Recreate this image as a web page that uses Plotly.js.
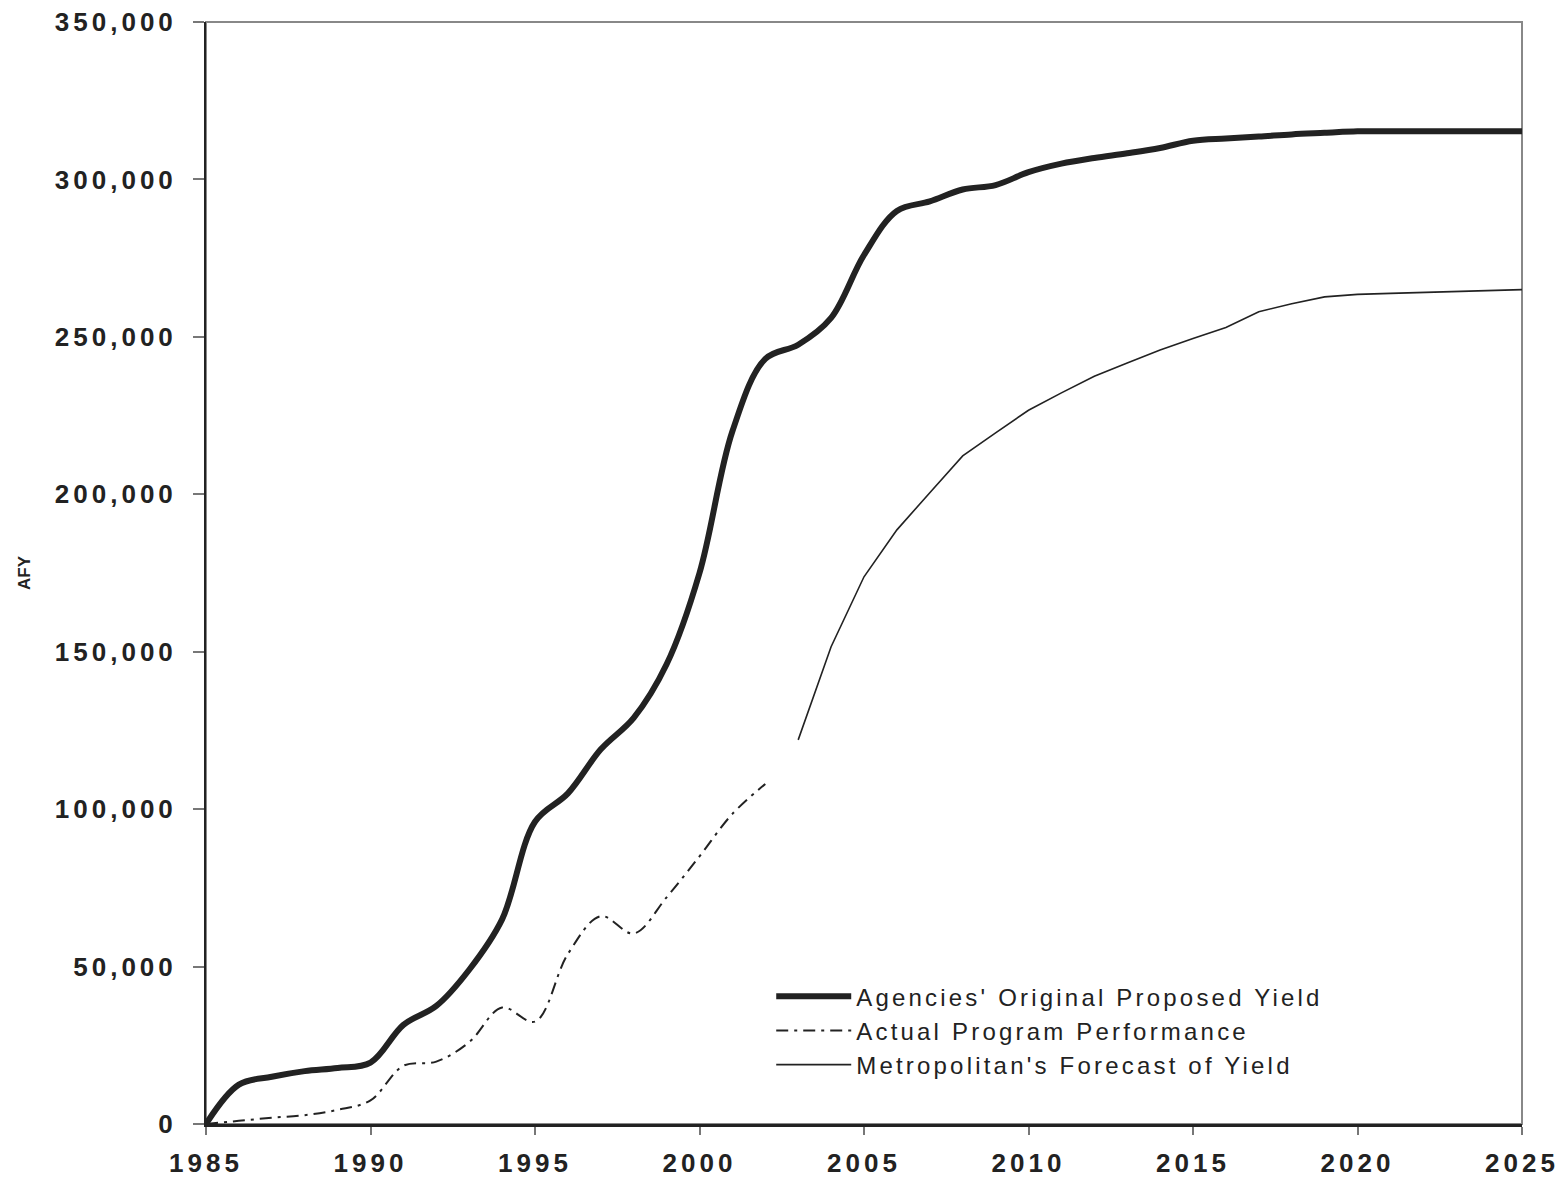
<!DOCTYPE html>
<html>
<head>
<meta charset="utf-8">
<script src="https://cdn.plot.ly/plotly-3.0.1.min.js"></script>
<style>
  html, body { margin: 0; padding: 0; background: #fff; }
  #chart { width: 1566px; height: 1183px; }
  .xtick text, .ytick text { letter-spacing: 4px; }
  .legendtext { letter-spacing: 3.2px; }
</style>
</head>
<body>
<div id="chart"></div>
<script>
const agencyYears = [1985,1986,1987,1988,1989,1990,1991,1992,1993,1994,1995,1996,1997,1998,1999,2000,2001,2002,2003,2004,2005,2006,2007,2008,2009,2010,2011,2012,2013,2014,2015,2016,2017,2018,2019,2020,2021,2022,2023,2024,2025];
const agencyYield = [0,12500,15000,16800,17800,19500,31500,37500,49000,65000,96000,105000,119000,129000,146000,175000,220000,243000,247500,256000,276000,290000,293000,296800,298200,302300,305000,306800,308300,310000,312300,313000,313600,314300,314800,315300,315300,315300,315300,315300,315300];

const actualYears = [1985,1986,1987,1988,1989,1990,1991,1992,1993,1994,1995,1996,1997,1998,1999,2000,2001,2002];
const actualPerf = [0,1000,2000,2800,4500,7500,18500,19800,26000,37000,32500,54000,66000,60500,72000,85000,98500,108000];

const metYears = [2003,2004,2005,2006,2007,2008,2009,2010,2011,2012,2013,2014,2015,2016,2017,2018,2019,2020,2021,2022,2023,2024,2025];
const metForecast = [122000,151600,173800,188700,200500,212200,219500,226700,232200,237500,241700,245800,249500,253000,258000,260500,262700,263500,263800,264100,264400,264700,265000];

const seriesNames = ["Agencies' Original Proposed Yield", "Actual Program Performance", "Metropolitan's Forecast of Yield"];
const xTicks = [1985,1990,1995,2000,2005,2010,2015,2020,2025];
const yTicks = [0,50000,100000,150000,200000,250000,300000,350000];

const ink = '#222222';
const traces = [
  { x: agencyYears, y: agencyYield, name: seriesNames[0], mode: 'lines',
    line: { color: ink, width: 6, shape: 'spline', smoothing: 1 } },
  { x: actualYears, y: actualPerf, name: seriesNames[1], mode: 'lines',
    line: { color: ink, width: 2, shape: 'spline', smoothing: 1, dash: '12px,6px,3px,6px' } },
  { x: metYears, y: metForecast, name: seriesNames[2], mode: 'lines',
    line: { color: ink, width: 1.6 } }
];

const tickFont = { family: 'Arial, "Liberation Sans", sans-serif', size: 26, color: ink, weight: 'bold' };

const layout = {
  width: 1566, height: 1183,
  margin: { l: 206, r: 44, t: 22, b: 59 },
  paper_bgcolor: '#fff', plot_bgcolor: '#fff',
  showlegend: true,
  legend: {
    x: 0.4295, y: 0.136, xanchor: 'left', yanchor: 'top',
    bgcolor: 'rgba(0,0,0,0)', borderwidth: 0,
    itemwidth: 75, tracegroupgap: 0,
    font: { family: 'Arial, "Liberation Sans", sans-serif', size: 24, color: ink }
  },
  xaxis: {
    range: [1985, 2025], tickmode: 'array', tickvals: xTicks, ticktext: xTicks.map(String),
    showgrid: false, zeroline: false,
    showline: true, linecolor: ink, linewidth: 3,
    ticks: 'outside', ticklen: 8, tickwidth: 2, tickcolor: '#777',
    ticklabelstandoff: 6,
    tickfont: tickFont, fixedrange: true
  },
  yaxis: {
    range: [0, 350000], tickmode: 'array', tickvals: yTicks, ticktext: yTicks.map(v => v.toLocaleString('en-US')),
    showgrid: false, zeroline: false,
    showline: true, linecolor: ink, linewidth: 2,
    ticks: 'outside', ticklen: 11, tickwidth: 2, tickcolor: '#777',
    ticklabelstandoff: 11,
    tickfont: tickFont,
    title: { text: 'AFY', font: { family: 'Arial, "Liberation Sans", sans-serif', size: 17, color: ink, weight: 'bold' }, standoff: 20 },
    fixedrange: true
  },
  shapes: [
    { type: 'rect', xref: 'paper', yref: 'paper', x0: 0, x1: 1, y0: 0, y1: 1,
      line: { color: '#888', width: 2 }, layer: 'below' }
  ]
};

Plotly.newPlot('chart', traces, layout, { staticPlot: true, displayModeBar: false });
</script>
</body>
</html>
